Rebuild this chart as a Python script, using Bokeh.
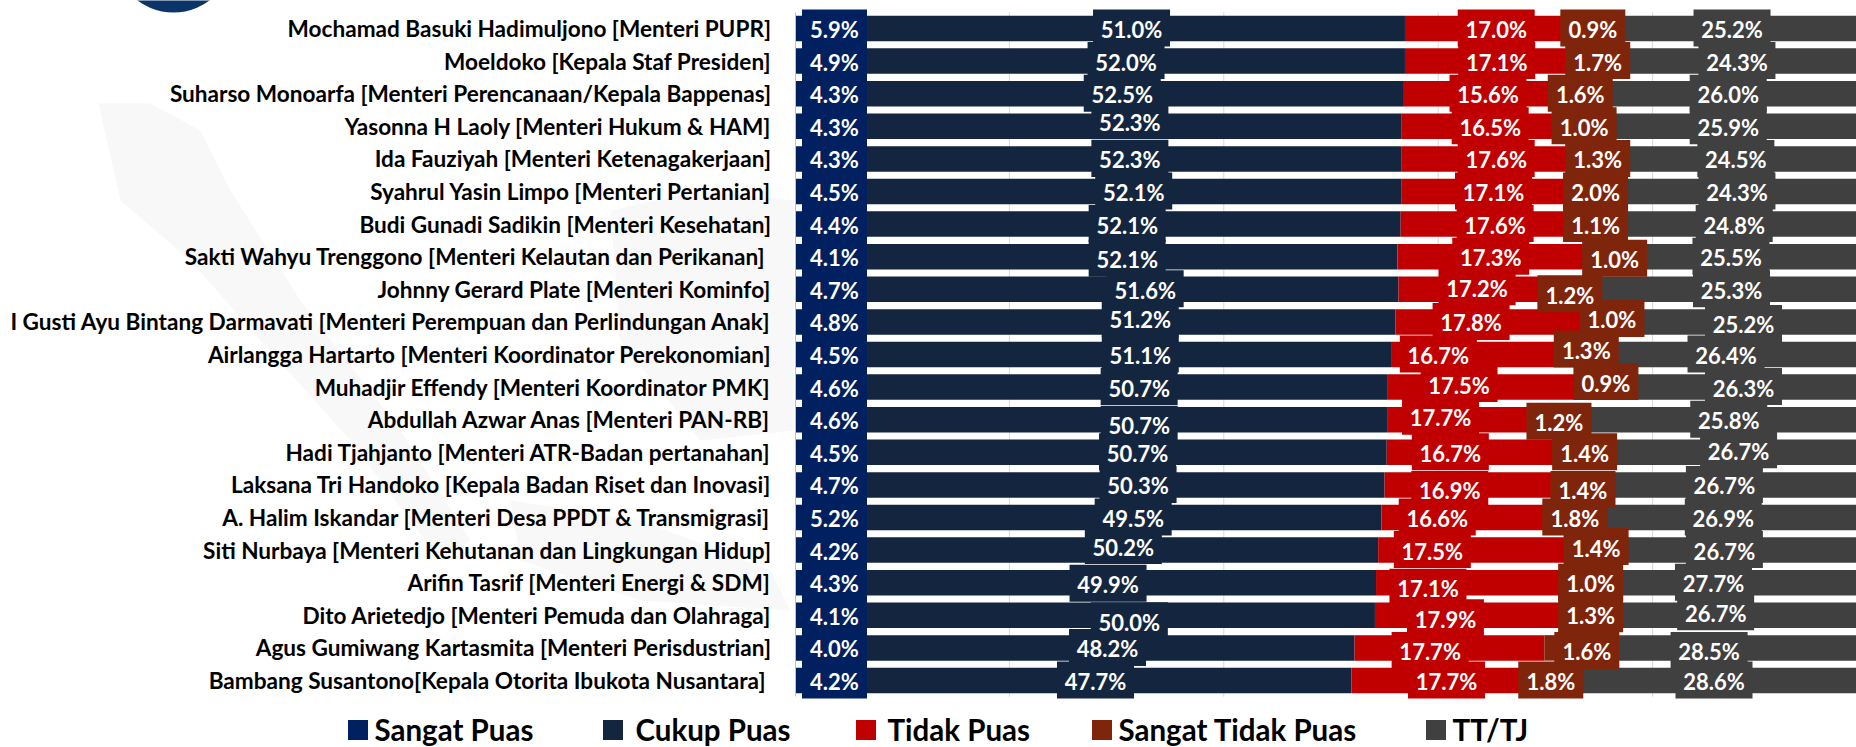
from bokeh.plotting import figure
from bokeh.embed import file_html
from bokeh.resources import INLINE
from bokeh.models import Range1d, FixedTicker, ColumnDataSource, Legend, LegendItem
from bokeh.core.properties import value

names = [
    "Mochamad Basuki Hadimuljono [Menteri PUPR]",
    "Moeldoko [Kepala Staf Presiden]",
    "Suharso Monoarfa [Menteri Perencanaan/Kepala Bappenas]",
    "Yasonna H Laoly [Menteri Hukum & HAM]",
    "Ida Fauziyah [Menteri Ketenagakerjaan]",
    "Syahrul Yasin Limpo [Menteri Pertanian]",
    "Budi Gunadi Sadikin [Menteri Kesehatan]",
    "Sakti Wahyu Trenggono [Menteri Kelautan dan Perikanan]\u00a0",
    "Johnny Gerard Plate [Menteri Kominfo]",
    "I Gusti Ayu Bintang Darmavati [Menteri Perempuan dan Perlindungan Anak]",
    "Airlangga Hartarto [Menteri Koordinator Perekonomian]",
    "Muhadjir Effendy [Menteri Koordinator PMK]",
    "Abdullah Azwar Anas [Menteri PAN-RB]",
    "Hadi Tjahjanto [Menteri ATR-Badan pertanahan]",
    "Laksana Tri Handoko [Kepala Badan Riset dan Inovasi]",
    "A. Halim Iskandar [Menteri Desa PPDT & Transmigrasi]",
    "Siti Nurbaya [Menteri Kehutanan dan Lingkungan Hidup]",
    "Arifin Tasrif [Menteri Energi & SDM]",
    "Dito Arietedjo [Menteri Pemuda dan Olahraga]",
    "Agus Gumiwang Kartasmita [Menteri Perisdustrian]",
    "Bambang Susantono[Kepala Otorita Ibukota Nusantara]\u00a0",
]

sangat_puas = [5.9, 4.9, 4.3, 4.3, 4.3, 4.5, 4.4, 4.1, 4.7, 4.8, 4.5, 4.6, 4.6, 4.5, 4.7, 5.2, 4.2, 4.3, 4.1, 4.0, 4.2]
cukup_puas = [51.0, 52.0, 52.5, 52.3, 52.3, 52.1, 52.1, 52.1, 51.6, 51.2, 51.1, 50.7, 50.7, 50.7, 50.3, 49.5, 50.2, 49.9, 50.0, 48.2, 47.7]
tidak_puas = [17.0, 17.1, 15.6, 16.5, 17.6, 17.1, 17.6, 17.3, 17.2, 17.8, 16.7, 17.5, 17.7, 16.7, 16.9, 16.6, 17.5, 17.1, 17.9, 17.7, 17.7]
sangat_tidak = [0.9, 1.7, 1.6, 1.0, 1.3, 2.0, 1.1, 1.0, 1.2, 1.0, 1.3, 0.9, 1.2, 1.4, 1.4, 1.8, 1.4, 1.0, 1.3, 1.6, 1.8]
tt_tj = [25.2, 24.3, 26.0, 25.9, 24.5, 24.3, 24.8, 25.5, 25.3, 25.2, 26.4, 26.3, 25.8, 26.7, 26.7, 26.9, 26.7, 27.7, 26.7, 28.5, 28.6]
grid_ticks = [20, 40, 60, 80]

series = ["Sangat Puas", "Cukup Puas", "Tidak Puas", "Sangat Tidak Puas", "TT/TJ"]
colors = ["#002060", "#14263F", "#C00000", "#7F250B", "#404040"]

# where each hand-placed data label sits: horizontal centre and vertical shift, in pixels
label_px_1 = [834.0] * 21
label_zoom_2 = [240, 230, 223, 237, 237, 244, 232, 232, 265, 256, 256, 254, 254, 251, 252, 243, 225, 197, 236, 196, 174]
label_zoom_3 = [908, 909, 893, 897, 908, 903, 906, 898, 873, 862, 802, 840, 806, 824, 823, 800, 791, 783, 815, 787, 817]
label_zoom_4 = [1085, 1094, 1062, 1069, 1094, 1090, 1090, 1125, 1043, 1120, 1073, 1109, 1023, 1070, 1067, 1052, 1091, 1081, 1081, 1074, 1008]
label_zoom_5 = [1340, 1349, 1333, 1333, 1347, 1349, 1344, 1338, 1339, 1361, 1329, 1361, 1334, 1352, 1326, 1324, 1326, 1306, 1310, 1298, 1307]
shift_2 = [0, 0, 0, -5, 0, 0, 0, 2, 0, -3, 0, 0, 5, 0, 0, 0, -4, 1, 6, 0, 0]
shift_3 = [0, 0, 0, 0, 0, 0, 0, 0, -2, 0, 0, -3, -3, 0, 5, 0, 0, 5, 3, 3, 0]
shift_4 = [0, 0, 0, 0, 0, 0, 0, 2, 5, -3, -5, -5, 2, 0, 5, 0, -3, 0, -1, 3, 0]
shift_5 = [0, 0, 0, 0, 0, 0, 0, 0, 0, 2, 0, 0, 0, -2, 0, 0, 0, 0, -3, 3, 0]

WIDTH, HEIGHT = 1856, 747
X0 = 794.5          # canvas x of 0 %
PX_PCT = 10.72      # pixels per percentage point
Y0 = 28.0           # canvas y of first row
ROW = 32.6          # pixels per row


def zoom_px(z):
    return 1000 + z * 856 / 1568


def pct(px):
    return (px - X0) / PX_PCT


def row_at(py):
    return (py - Y0) / ROW


rows = list(range(len(names)))
values = [sangat_puas, cukup_puas, tidak_puas, sangat_tidak, tt_tj]
data = {"row": rows}
data.update({s: v for s, v in zip(series, values)})

p = figure(
    width=WIDTH, height=HEIGHT, output_backend="svg", toolbar_location=None,
    x_range=Range1d(pct(0), pct(WIDTH)),
    y_range=Range1d(row_at(HEIGHT), row_at(0)),
    min_border_left=0, min_border_right=0, min_border_top=0, min_border_bottom=0,
)
p.outline_line_color = None

# faint map watermark behind the chart
watermark = [
    ([98, 150, 200, 230, 300, 400, 470, 440, 350, 260, 190, 120],
     [103, 103, 130, 190, 300, 430, 540, 560, 440, 340, 260, 200]),
    ([510, 640, 770, 790, 640, 520],
     [500, 520, 570, 610, 600, 560]),
    ([610, 700, 793, 793, 700, 620],
     [210, 190, 200, 430, 440, 340]),
]
p.patches(xs=[[pct(x) for x in xs] for xs, _ in watermark],
          ys=[[row_at(y) for y in ys] for _, ys in watermark],
          fill_color="#F8F8F8", line_color=None)
# logo remnant at the top edge
p.scatter(x=[pct(173)], y=[row_at(-48)], size=120, marker="circle",
          fill_color="#0B3568", line_color=None)

# gridlines stop with the category band, as the axis line does
p.xgrid.visible = False
p.ygrid.visible = False
p.segment(x0=grid_ticks, x1=grid_ticks, y0=[-0.5] * 4, y1=[20.5] * 4,
          line_color="#D9D9D9", line_width=1)

renderers = p.hbar_stack(series, y="row", height=25.5 / ROW, color=colors,
                         source=ColumnDataSource(data), line_color=None)

p.xaxis.visible = False

ax = p.yaxis[0]
ax.fixed_location = 0
ax.ticker = FixedTicker(ticks=rows)
ax.major_label_overrides = {i: n for i, n in enumerate(names)}
ax.major_tick_line_color = None
ax.minor_tick_line_color = None
ax.axis_line_color = "#BFBFBF"
ax.axis_line_width = 1
ax.bounds = (-0.5, 20.5)
ax.major_label_standoff = 18
ax.major_label_text_font = "Lato"
ax.major_label_text_font_style = "bold"
ax.major_label_text_font_size = "22.6px"
ax.major_label_text_color = "#000000"

label_px = [label_px_1] + [[zoom_px(z) for z in c] for c in (label_zoom_2, label_zoom_3, label_zoom_4, label_zoom_5)]
shifts = [[0] * 21, shift_2, shift_3, shift_4, shift_5]
box_w = [65, 77, 77, 65, 77]

for vals, xs, dy, col, w in zip(values, label_px, shifts, colors, box_w):
    src = ColumnDataSource(dict(
        x=[pct(v) for v in xs],
        yb=[r + (d - 0.5) / ROW for r, d in zip(rows, dy)],
        yt=[r + (d + 1) / ROW for r, d in zip(rows, dy)],
        t=[f"{v:.1f}%" for v in vals],
    ))
    p.rect(x="x", y="yb", width=w, height=37, width_units="screen", height_units="screen",
           color=col, line_color=None, source=src)
    p.text(x="x", y="yt", text="t", text_color="#FFFFFF", text_font=value("Lato"),
           text_font_style="bold", text_font_size="22px", text_align="center",
           text_baseline="middle", source=src)

legend_x = [348, 603, 856, 1092, 1426]
legend_gap = [8, 14, 13, 8, 8]
for name, r, lx, gap in zip(series, renderers, legend_x, legend_gap):
    lg = Legend(items=[LegendItem(label=name, renderers=[r])],
                location=(lx - 3.5, 0),
                orientation="horizontal", padding=0, margin=0, spacing=0,
                border_line_color=None, background_fill_alpha=0,
                glyph_width=25, glyph_height=25, label_standoff=gap - 3,
                label_text_font="Lato", label_text_font_style="bold",
                label_text_font_size="29.5px", label_text_color="#000000")
    p.add_layout(lg, "center")

open("out.html", "w").write(file_html(p, INLINE))
